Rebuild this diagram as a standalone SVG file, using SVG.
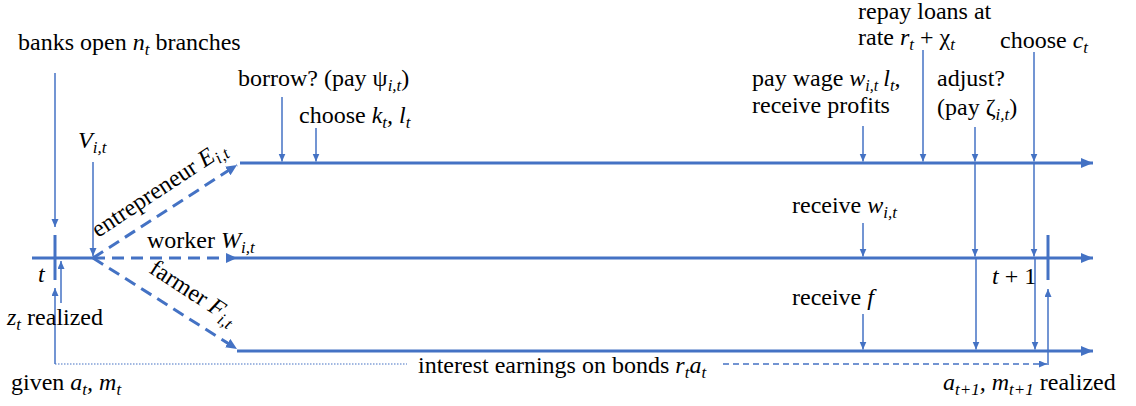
<svg xmlns="http://www.w3.org/2000/svg" width="1136" height="406" viewBox="0 0 1136 406" font-family="Liberation Serif, Tinos, Times New Roman, serif">
<defs>
<marker id="big" markerUnits="userSpaceOnUse" markerWidth="13" markerHeight="11" refX="12" refY="5" orient="auto"><path d="M0,0 L12,5 L0,10 z" fill="#4472C4"/></marker>
<marker id="dh" markerUnits="userSpaceOnUse" markerWidth="12" markerHeight="11" refX="11" refY="5" orient="auto"><path d="M0,0 L11,5 L0,10 z" fill="#4472C4"/></marker>
<marker id="sm" markerUnits="userSpaceOnUse" markerWidth="9" markerHeight="8" refX="8" refY="3.5" orient="auto"><path d="M0,0 L8,3.5 L0,7 z" fill="#4472C4"/></marker>
</defs>

<g id="connectors" stroke="#4472C4" fill="none">
<g stroke-width="3">
<line x1="240" y1="163" x2="1093" y2="163" marker-end="url(#big)"/>
<line x1="32" y1="258" x2="93" y2="258"/>
<line x1="237" y1="258" x2="1093" y2="258" marker-end="url(#big)"/>
<line x1="237" y1="351" x2="1093" y2="351" marker-end="url(#big)"/>
<line x1="55" y1="235" x2="55" y2="280"/>
<line x1="1048" y1="235" x2="1048" y2="280"/>
</g>
<g stroke-width="3" stroke-dasharray="12 7">
<line x1="93" y1="258" x2="237" y2="165" marker-end="url(#dh)"/>
<line x1="93" y1="258" x2="237" y2="258" marker-end="url(#dh)"/>
<line x1="93" y1="258" x2="237" y2="349" marker-end="url(#dh)"/>
</g>
<g stroke-width="1.5">
<line x1="55" y1="73" x2="55" y2="227" marker-end="url(#sm)"/>
<line x1="93" y1="162" x2="93" y2="256" marker-end="url(#sm)"/>
<line x1="61" y1="303" x2="61" y2="261" marker-end="url(#sm)"/>
<line x1="55" y1="364" x2="55" y2="288" marker-end="url(#sm)"/>
<line x1="282" y1="97" x2="282" y2="161.5" marker-end="url(#sm)"/>
<line x1="316" y1="128" x2="316" y2="161.5" marker-end="url(#sm)"/>
<line x1="863" y1="126" x2="863" y2="161.5" marker-end="url(#sm)"/>
<line x1="923" y1="50" x2="923" y2="161.5" marker-end="url(#sm)"/>
<line x1="975" y1="127" x2="975" y2="161.5" marker-end="url(#sm)"/>
<line x1="975" y1="163" x2="975" y2="256.5" marker-end="url(#sm)"/>
<line x1="976" y1="258" x2="976" y2="349.5" marker-end="url(#sm)"/>
<line x1="1034" y1="52" x2="1034" y2="161.5" marker-end="url(#sm)"/>
<line x1="1034" y1="163" x2="1034" y2="256.5" marker-end="url(#sm)"/>
<line x1="1035" y1="258" x2="1035" y2="349.5" marker-end="url(#sm)"/>
<line x1="863" y1="223" x2="863" y2="256.5" marker-end="url(#sm)"/>
<line x1="863" y1="314" x2="863" y2="349.5" marker-end="url(#sm)"/>
<line x1="1048" y1="365" x2="1048" y2="289" marker-end="url(#sm)"/>
<line x1="723" y1="364" x2="1047" y2="364" stroke-dasharray="6 4" marker-end="url(#sm)"/>
</g>
<line x1="55" y1="364" x2="407" y2="364" stroke-width="1.2" stroke-dasharray="1.5 1.5"/>
</g>

<g id="labels" fill="#000" font-size="24">
<g id="banks"><text font-family="Liberation Serif" x="18" y="50">banks open <tspan font-style="italic">n</tspan><tspan font-size="17" font-style="italic" dy="5">t</tspan><tspan dy="-5"> branches</tspan></text></g>
<g id="V"><text font-family="Liberation Serif" x="78" y="148"><tspan font-style="italic">V</tspan><tspan font-size="17" font-style="italic" dy="5">i,t</tspan></text></g>
<g id="t-label"><text font-family="Liberation Serif" font-style="italic" x="38" y="282">t</text></g>
<g id="z"><text font-family="Liberation Serif" x="7" y="325"><tspan font-style="italic">z</tspan><tspan font-size="17" font-style="italic" dy="5">t</tspan><tspan dy="-5"> realized</tspan></text></g>
<g id="given"><text font-family="Liberation Serif" x="11" y="390">given <tspan font-style="italic">a</tspan><tspan font-size="17" font-style="italic" dy="5">t</tspan><tspan dy="-5" font-style="italic">, m</tspan><tspan font-size="17" font-style="italic" dy="5">t</tspan></text></g>
<g id="entrepreneur"><text font-family="Liberation Serif" transform="translate(98,238) rotate(-33.4)">entrepreneur <tspan font-style="italic">E</tspan><tspan font-size="17" font-style="italic" dy="5">i,t</tspan></text></g>
<g id="worker"><text font-family="Liberation Serif" x="147" y="248">worker <tspan font-style="italic">W</tspan><tspan font-size="17" font-style="italic" dy="5">i,t</tspan></text></g>
<g id="farmer"><text font-family="Liberation Serif" transform="translate(148,272) rotate(33)">farmer <tspan font-style="italic">F</tspan><tspan font-size="17" font-style="italic" dy="5">i,t</tspan></text></g>
<g id="borrow"><text font-family="Liberation Serif" x="238" y="86">borrow? (pay ψ<tspan font-size="17" font-style="italic" dy="5">i,t</tspan><tspan dy="-5">)</tspan></text></g>
<g id="choosek"><text font-family="Liberation Serif" x="299" y="123">choose <tspan font-style="italic">k</tspan><tspan font-size="17" font-style="italic" dy="5">t</tspan><tspan dy="-5" font-style="italic">, l</tspan><tspan font-size="17" font-style="italic" dy="5">t</tspan></text></g>
<g id="paywage"><text font-family="Liberation Serif" x="752" y="86">pay wage <tspan font-style="italic">w</tspan><tspan font-size="16" font-style="italic" dy="5">i,t</tspan><tspan dy="-5" dx="5" font-style="italic">l</tspan><tspan font-size="17" font-style="italic" dy="5">t</tspan><tspan dy="-5">,</tspan></text><text font-family="Liberation Serif" x="752" y="113">receive profits</text></g>
<g id="repay"><text font-family="Liberation Serif" x="858" y="19">repay loans at</text><text font-family="Liberation Serif" x="858" y="45">rate <tspan font-style="italic">r</tspan><tspan font-size="17" font-style="italic" dy="5">t</tspan><tspan dy="-5"> + χ</tspan><tspan font-size="17" font-style="italic" dy="5">t</tspan></text></g>
<g id="adjust"><text font-family="Liberation Serif" x="937" y="86">adjust?</text><text font-family="Liberation Serif" x="937" y="115">(pay ζ<tspan font-size="17" font-style="italic" dy="5">i,t</tspan><tspan dy="-5">)</tspan></text></g>
<g id="choosec"><text font-family="Liberation Serif" x="1000" y="48">choose <tspan font-style="italic">c</tspan><tspan font-size="17" font-style="italic" dy="5">t</tspan></text></g>
<g id="receivew"><text font-family="Liberation Serif" x="792" y="213">receive <tspan font-style="italic">w</tspan><tspan font-size="17" font-style="italic" dy="5">i,t</tspan></text></g>
<g id="receivef"><text font-family="Liberation Serif" x="792" y="305">receive <tspan font-style="italic">f</tspan></text></g>
<g id="t1"><text font-family="Liberation Serif" x="992" y="284"><tspan font-style="italic">t</tspan> + 1</text></g>
<g id="interest"><text font-family="Liberation Serif" x="418" y="373">interest earnings on bonds <tspan font-style="italic">r</tspan><tspan font-size="17" font-style="italic" dy="5">t</tspan><tspan dy="-5" font-style="italic">a</tspan><tspan font-size="17" font-style="italic" dy="5">t</tspan></text></g>
<g id="realized"><text font-family="Liberation Serif" x="943" y="390"><tspan font-style="italic">a</tspan><tspan font-size="17" font-style="italic" dy="5">t+1</tspan><tspan dy="-5" font-style="italic">, m</tspan><tspan font-size="17" font-style="italic" dy="5">t+1</tspan><tspan dy="-5"> realized</tspan></text></g>
</g>
</svg>
